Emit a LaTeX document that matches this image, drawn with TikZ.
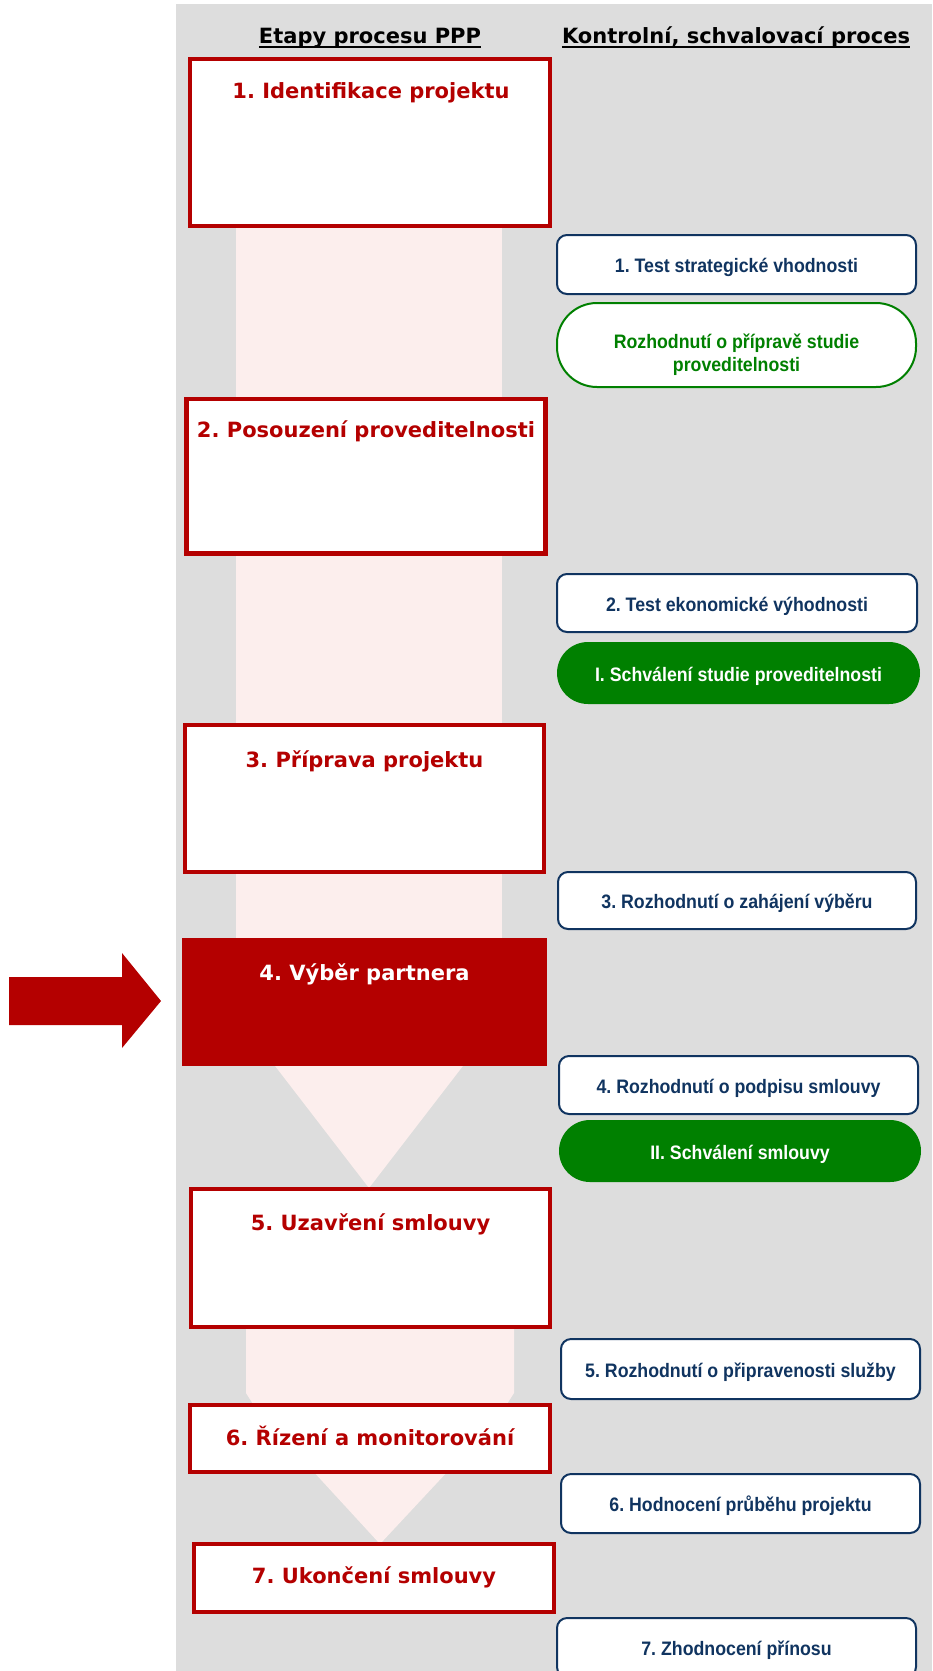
\documentclass[tikz,border=0pt]{standalone}
\usepackage{fontspec}
\newfontfamily\stagefont{DejaVu Sans}
\newfontfamily\checkfont{Liberation Sans}[FakeStretch=0.91]
\definecolor{bgGray}{RGB}{221,221,221}
\definecolor{pathPink}{RGB}{252,238,237}
\definecolor{pppRed}{RGB}{180,0,0}
\definecolor{pppNavy}{RGB}{16,52,96}
\definecolor{pppGreen}{RGB}{0,128,0}

\tikzset{
  hdr/.style={font=\stagefont\bfseries\fontsize{21}{25}\selectfont, text=black, anchor=base, inner sep=0pt},
  stagebox/.style={draw=pppRed, line width=4.5pt, fill=white, inner sep=0pt},
  stagetitle/.style={font=\stagefont\bfseries\fontsize{21}{25}\selectfont, text=pppRed, anchor=base, inner sep=0pt},
  checkbox/.style={draw=pppNavy, line width=2pt, fill=white, rounded corners=10pt, inner sep=0pt,
    text=pppNavy, font=\checkfont\bfseries\fontsize{19.5}{24}\selectfont, text height=16pt, text depth=0pt},
  approvebox/.style={fill=pppGreen, draw=none, rounded corners=31pt, inner sep=0pt,
    text=white, font=\checkfont\bfseries\fontsize{19.5}{24}\selectfont, text height=16pt, text depth=0pt},
  decidebox/.style={draw=pppGreen, line width=2pt, fill=white, rounded corners=40pt, inner sep=0pt},
  decidetext/.style={text=pppGreen, font=\checkfont\bfseries\fontsize{19.5}{23}\selectfont, align=center, inner sep=0pt},
}

\begin{document}
\frenchspacing
\begin{tikzpicture}[x=1pt, y=-1pt]
  \useasboundingbox (0,0) rectangle (932,1671);
  \begin{scope}
  \clip (0,0) rectangle (932,1671);

  % grey panel
  \fill[bgGray] (176,4) rectangle (932,1671);

  % pale flow band behind the stages
  \fill[pathPink] (236,220) rectangle (502,945);
  \fill[pathPink] (272,1062) -- (466,1062) -- (369,1188) -- cycle;
  \fill[pathPink] (246,1325) -- (514,1325) -- (514,1393) -- (507,1404) -- (253,1404) -- (246,1393) -- cycle;
  \fill[pathPink] (312,1470) -- (449,1470) -- (380,1544) -- cycle;

  % pointer to the current stage
  \fill[pppRed] (9,977) -- (122,977) -- (122,953) -- (161,1001) -- (122,1048) -- (122,1025) -- (9,1025) -- cycle;

  % column headings
  \node[hdr] (hA) at (370,43) {Etapy procesu PPP};
  \node[hdr] (hB) at (736,43) {Kontrolní, schvalovací proces};
  \draw[line width=2.6pt] ([yshift=-4pt]hA.base west) -- ([yshift=-4pt]hA.base east);
  \draw[line width=2.6pt] ([yshift=-4pt]hB.base west) -- ([yshift=-4pt]hB.base east);

  % stages
  \node[stagebox, minimum width=360pt, minimum height=167pt] (s1) at (370,142.5) {};
  \node[stagebox, minimum width=359pt, minimum height=154.5pt] (s2) at (366,476) {};
  \node[stagebox, minimum width=359pt, minimum height=147pt] (s3) at (364.5,798.5) {};
  \node[fill=pppRed, draw=none, inner sep=0pt, minimum width=365pt, minimum height=128pt] (s4) at (364.5,1002) {};
  \node[stagebox, minimum width=359pt, minimum height=138pt] (s5) at (370.5,1258) {};
  \node[stagebox, minimum width=360pt, minimum height=67pt] (s6) at (370,1438.5) {};
  \node[stagebox, minimum width=360pt, minimum height=68pt] (s7) at (374,1578) {};

  \node[stagetitle] (t1) at (371,98) {1. Identifikace projektu};
  \node[stagetitle] (t2) at (366,437) {2. Posouzení proveditelnosti};
  \node[stagetitle] (t3) at (364.5,767) {3. Příprava projektu};
  \node[stagetitle, text=white] (t4) at (364.5,980) {4. Výběr partnera};
  \node[stagetitle] (t5) at (370.5,1230) {5. Uzavření smlouvy};
  \node[stagetitle] (t6) at (370,1445) {6. Řízení a monitorování};
  \node[stagetitle] (t7) at (374,1583) {7. Ukončení smlouvy};

  % control and approval steps
  \node[checkbox, minimum width=359pt, minimum height=59pt] (c1) at (736.5,264.5) {1. Test strategické vhodnosti};
  \node[decidebox, minimum width=359pt, minimum height=84pt] (d1) at (736.5,345) {};
  \node[decidetext] (d1t) at ([yshift=-10pt]d1.center) {Rozhodnutí o přípravě studie\\proveditelnosti};
  \node[checkbox, minimum width=360pt, minimum height=58pt] (c2) at (737,603) {2. Test ekonomické výhodnosti};
  \node[approvebox, minimum width=363pt, minimum height=62pt] (a1) at (738.5,673) {I. Schválení studie proveditelnosti};
  \node[checkbox, minimum width=358pt, minimum height=57pt] (c3) at (737,900.5) {3. Rozhodnutí o zahájení výběru};
  \node[checkbox, minimum width=359pt, minimum height=58pt] (c4) at (738.5,1085) {4. Rozhodnutí o podpisu smlouvy};
  \node[approvebox, minimum width=362pt, minimum height=62pt] (a2) at (740,1151) {II. Schválení smlouvy};
  \node[checkbox, minimum width=359pt, minimum height=60pt] (c5) at (740.5,1369) {5. Rozhodnutí o připravenosti služby};
  \node[checkbox, minimum width=359pt, minimum height=59pt] (c6) at (740.5,1503.5) {6. Hodnocení průběhu projektu};
  \node[checkbox, minimum width=359pt, minimum height=59pt] (c7) at (736.5,1647.5) {7. Zhodnocení přínosu};
  \end{scope}
\end{tikzpicture}
\end{document}
